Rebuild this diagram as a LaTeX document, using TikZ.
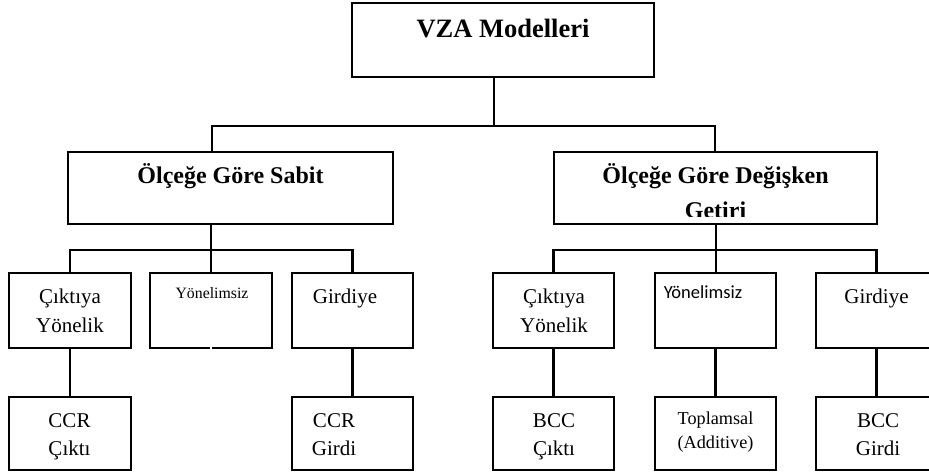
\documentclass[tikz,border=0pt]{standalone}
\usepackage{fontspec}
\setmainfont{Liberation Serif}
\newfontfamily\carlitofont{Carlito}
\begin{document}
\begin{tikzpicture}[x=1pt,y=-1pt,
  box/.style={draw, line width=2.2pt, rectangle, inner sep=0pt, minimum height=#1},
  tbox/.style={draw, line width=2.6pt, rectangle, inner sep=0pt},
  conn/.style={line width=2.2pt},
  tx/.style={anchor=base, inner sep=0pt, font=\fontsize{21}{25}\selectfont},
  tbig/.style={anchor=base, inner sep=0pt, font=\fontsize{26.5}{30}\selectfont\bfseries},
  tmid/.style={anchor=base, inner sep=0pt, font=\fontsize{24}{28}\selectfont\bfseries},
  tsmall/.style={anchor=base, inner sep=0pt, font=\fontsize{15.8}{19}\selectfont},
  tsans/.style={anchor=base, inner sep=0pt, font=\fontsize{18.5}{22}\selectfont\carlitofont},
  tadd/.style={anchor=base, inner sep=0pt, font=\fontsize{18.2}{22}\selectfont}]
\useasboundingbox (0,0) rectangle (929,476);
% boxes
\node[tbox, minimum width=302pt, minimum height=74pt] (top) at (503,40) {};
\node[box=72pt, minimum width=325pt] (L) at (230.5,188) {};
\node[box=72pt, minimum width=323pt] (R) at (715.5,188) {};
\node[box=75pt, minimum width=122pt] (b1) at (70,310.5) {};
\node[box=75pt, minimum width=122pt] (b2) at (211,310.5) {};
\node[box=75pt, minimum width=121pt] (b3) at (352.5,310.5) {};
\node[box=75pt, minimum width=121pt] (b4) at (553.5,310.5) {};
\node[box=75pt, minimum width=121pt] (b5) at (715.5,310.5) {};
\node[box=75pt, minimum width=121pt] (b6) at (876.5,310.5) {};
\node[box=73pt, minimum width=122pt] (c1) at (70,433.5) {};
\node[box=73pt, minimum width=121pt] (c3) at (352.5,433.5) {};
\node[box=73pt, minimum width=121pt] (c4) at (553.5,433.5) {};
\node[box=73pt, minimum width=121pt] (c5) at (715.5,433.5) {};
\node[box=73pt, minimum width=121pt] (c6) at (876.5,433.5) {};
% junction coordinates
\coordinate (j0) at (494,126);
\coordinate (jl) at (212,126);
\coordinate (jr) at (715,126);
\coordinate (kl) at (211,250);
\coordinate (kr) at (716,250);
% connectors
\draw[conn] (top.south -| j0) -- (j0);
\draw[conn] (jl |- L.north) -- (jl) -- (jr) -- (jr |- R.north);
\draw[conn] (L.south -| kl) -- (kl);
\draw[conn] (b1.north) -- (b1.north |- kl) -- (b3.north |- kl) -- (b3.north);
\draw[conn] (kl) -- (kl |- b2.north);
\draw[conn] (R.south -| kr) -- (kr);
\draw[conn] (b4.north) -- (b4.north |- kr) -- (b6.north |- kr) -- (b6.north);
\draw[conn] (kr) -- (kr |- b5.north);
\draw[conn] (b1.south) -- (c1.north);
\draw[conn] (b3.south) -- (c3.north);
\draw[conn] (b4.south) -- (c4.north);
\draw[conn] (b5.south) -- (c5.north);
\draw[conn] (b6.south) -- (c6.north);
\draw[white, line width=1.4pt] (b2.south) ++(0,-2) -- ++(0,4);
% texts
\node[tbig] (ttop) at (503,38) {VZA Modelleri};
\node[tmid] (tl) at (230.5,183) {Ölçeğe Göre Sabit};
\node[tmid] (tr1) at (715.5,183) {Ölçeğe Göre Değişken};
\begin{scope}
\clip (554,150) rectangle (877,216.5);
\node[tmid] (tr2) at (715.5,218.5) {Getiri};
\end{scope}
\node[tx] (b1a) at (70,303) {Çıktıya};
\node[tx] (b1b) at (70,332) {Yönelik};
\node[tsmall] (b2a) at (212,298) {Yönelimsiz};
\node[tx] (b3a) at (345,303) {Girdiye};
\node[tx] (b4a) at (554,303) {Çıktıya};
\node[tx] (b4b) at (554,332) {Yönelik};
\node[tsans] (b5a) at (703,298) {Yönelimsiz};
\node[tx] (b6a) at (876.5,303) {Girdiye};
\node[tx] (c1a) at (69.5,427) {CCR};
\node[tx] (c1b) at (69.5,455) {Çıktı};
\node[tx] (c3a) at (334,427) {CCR};
\node[tx] (c3b) at (334,455) {Girdi};
\node[tx] (c4a) at (554,427) {BCC};
\node[tx] (c4b) at (554,455) {Çıktı};
\node[tadd] (c5a) at (715.5,424) {Toplamsal};
\node[tadd] (c5b) at (715.5,448) {(Additive)};
\node[tx] (c6a) at (878,427) {BCC};
\node[tx] (c6b) at (878,455) {Girdi};
\end{tikzpicture}
\end{document}
